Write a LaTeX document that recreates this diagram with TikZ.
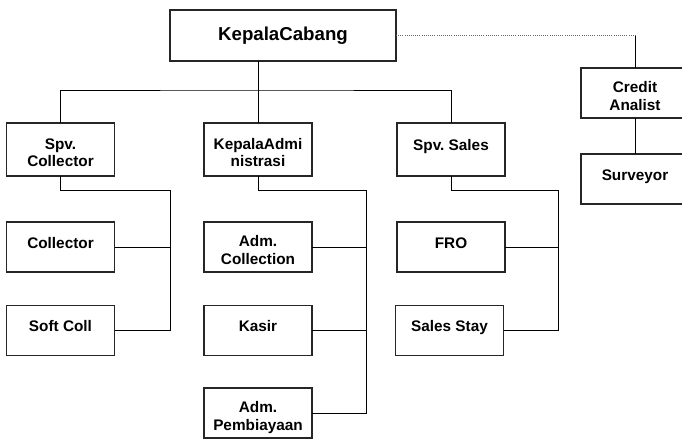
\documentclass[tikz,border=0pt]{standalone}
\usepackage{fontspec}
\setmainfont{Liberation Sans}
\frenchspacing
\tikzset{every picture/.style={line width=0.75pt}}
\tikzset{
  frame/.style={draw=black!85, line width=0.9pt, rectangle, inner sep=0pt,
                outer sep=0pt, align=center},
  box/.style={frame, minimum width=81pt, minimum height=#1,
                font=\bfseries\fontsize{11.5}{13.2}\selectfont,
                text height=8.5pt, text depth=6.3pt},
  box/.default={37.5pt}, % box height of the lower rows
  one/.style={},
  two/.style={text height=26.2pt, text depth=0pt}, % two lines sit from the top too
  headbox/.style={frame, minimum width=169.5pt, minimum height=38.25pt,
                font=\bfseries\fontsize{14}{16}\selectfont},
  dotline/.style={densely dotted, draw=black!60, line width=0.6pt},
}
\def\hb{90}  % y of the bus under KepalaCabang
\def\hj{190} % y of the joints under the supervisors

\begin{document}
\begin{tikzpicture}[x=0.75pt, y=-0.75pt]
  \useasboundingbox (0,0) rectangle (682,440);
  % head | wide box on top
  \node[headbox] (kc) at (283,35.5) {KepalaCabang};
  % supervisors | taller boxes in one row
  \foreach \name/\txt/\x/\opt in {spvc/{Spv.\\Collector}/60.5/two,
                                  kadm/{KepalaAdmi\\nistrasi}/258/two,
                                  spvs/{Spv. Sales}/451/one} {
      \node[box=39.75pt, \opt] (\name) at (\x,149.5) {\txt};
  };
  % staff | one column under each supervisor
  \foreach \name/\txt/\x/\y/\opt in {col/Collector/60.5/247/one,
                                     soft/Soft Coll/60.5/330.5/one,
                                     admc/{Adm.\\Collection}/258/247/two,
                                     kasir/Kasir/258/330.5/one,
                                     admp/{Adm.\\Pembiayaan}/258/413/two,
                                     fro/FRO/451/247/one,
                                     sales/Sales Stay/449.5/330.5/one,
                                     ca/{Credit\\Analist}/635/93/two,
                                     sv/Surveyor/635/179/one} {
      \node[box, \opt] (\name) at (\x,\y) {\txt};
  };
  % joints of the lines
  \coordinate (bus) at (258,\hb);
  \coordinate (jc) at (170,\hj);
  \coordinate (ja) at (366,\hj);
  \coordinate (js) at (558,\hj);
  % head to supervisors
  \draw (kc.south -| kadm.north) -- (kadm.north);
  \draw (spvc.north) |- (bus) -| (spvs.north);
  % supervisors to staff
  \draw (spvc.south) |- (jc) |- (soft.east);
  \draw (col.east) -- (col.east -| jc);
  \draw (kadm.south) |- (ja) |- (admp.east);
  \draw (admc.east) -- (admc.east -| ja);
  \draw (kasir.east) -- (kasir.east -| ja);
  \draw (spvs.south) |- (js) |- (sales.east);
  \draw (fro.east) -- (fro.east -| js);
  % staff line of the head | dotted then solid down
  \draw[dotline] (kc.east) -- (kc.east -| ca.north);
  \draw (kc.east -| ca.north) -- (ca.north);
  \draw (ca.south) -- (sv.north);
\end{tikzpicture}
\end{document}
